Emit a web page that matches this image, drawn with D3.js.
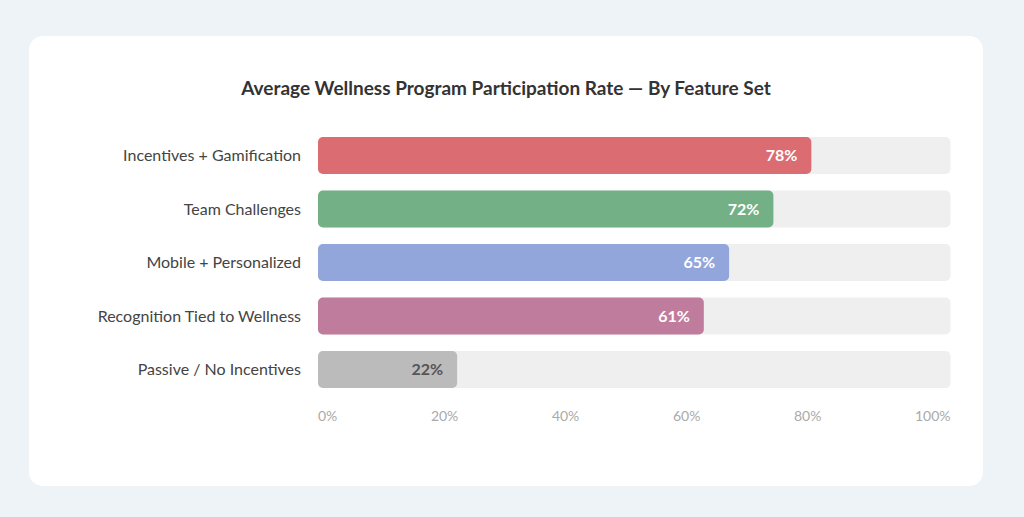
<!DOCTYPE html>
<html>
<head>
<meta charset="utf-8">
<script src="https://cdn.jsdelivr.net/npm/d3@7"></script>
<style>
  html, body { margin: 0; padding: 0; background: #eef3f8; }
  svg { display: block; font-family: Lato, "Open Sans", sans-serif; }
</style>
</head>
<body>
<div class="chart"></div>
<script>
var categories = ["Incentives + Gamification", "Team Challenges", "Mobile + Personalized",
                  "Recognition Tied to Wellness", "Passive / No Incentives"];
var rates = [78, 72, 65, 61, 22];
var barColors = ["#db6c72", "#74b085", "#93a6db", "#c07c9c", "#bbbbbb"];
var ticks = [0, 20, 40, 60, 80, 100];

var width = 1024, height = 517;

var svg = d3.select(".chart")
            .append("svg")
            .attr("width", width)
            .attr("height", height)
            .style("background-color", "#eef3f8");

// card
svg.append("rect")
   .attr("x", 29)
   .attr("y", 36)
   .attr("width", 954)
   .attr("height", 450)
   .attr("rx", 14)
   .attr("fill", "white");

svg.append("text")
   .attr("x", 506)
   .attr("y", 95)
   .attr("text-anchor", "middle")
   .style("font-size", "19px")
   .style("font-weight", 700)
   .style("fill", "#333")
   .text("Average Wellness Program Participation Rate \u2014 By Feature Set");

var x = d3.scaleLinear().domain([0, 100]).range([318, 950.5]);
var y = d3.scaleBand().domain(categories).range([137, 388]).paddingInner(0.308).paddingOuter(0);

// tracks
svg.selectAll(".track")
   .data(categories)
   .enter().append("rect")
   .attr("x", x(0))
   .attr("y", function(d) { return y(d); })
   .attr("width", x(100) - x(0))
   .attr("height", y.bandwidth())
   .attr("rx", 5)
   .attr("fill", "#efefef");

// bars
svg.selectAll(".bar")
   .data(rates)
   .enter().append("rect")
   .attr("x", x(0))
   .attr("y", function(d, i) { return y(categories[i]); })
   .attr("width", function(d) { return x(d) - x(0); })
   .attr("height", y.bandwidth())
   .attr("rx", 5)
   .attr("fill", function(d, i) { return barColors[i]; });

// value labels
svg.selectAll(".val")
   .data(rates)
   .enter().append("text")
   .attr("x", function(d) { return x(d) - 14; })
   .attr("y", function(d, i) { return y(categories[i]) + y.bandwidth() / 2; })
   .attr("dy", "0.36em")
   .attr("text-anchor", "end")
   .style("font-size", "16px")
   .style("font-weight", 700)
   .style("fill", function(d) { return d < 30 ? "#555" : "white"; })
   .text(function(d) { return d + "%"; });

// category labels
svg.selectAll(".cat")
   .data(categories)
   .enter().append("text")
   .attr("x", 301)
   .attr("y", function(d) { return y(d) + y.bandwidth() / 2; })
   .attr("dy", "0.36em")
   .attr("text-anchor", "end")
   .style("font-size", "16px")
   .style("fill", "#444")
   .text(function(d) { return d; });

// tick labels spread edge to edge
var tickText = svg.selectAll(".tick")
   .data(ticks)
   .enter().append("text")
   .attr("y", 416)
   .attr("dy", "0.36em")
   .style("font-size", "14px")
   .style("fill", "#aaa")
   .text(function(d) { return d + "%"; });

var widths = [];
tickText.each(function() { widths.push(this.getComputedTextLength()); });
var gap = (x(100) - x(0) - d3.sum(widths)) / (ticks.length - 1);
var pos = x(0);
tickText.attr("x", function(d, i) {
  var p = pos;
  pos += widths[i] + gap;
  return p;
});
</script>
</body>
</html>
